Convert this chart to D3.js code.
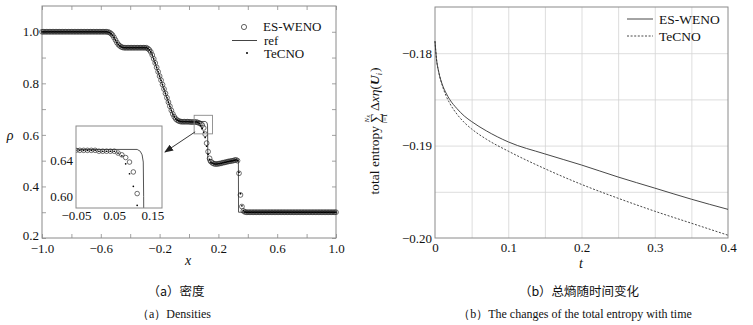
<!DOCTYPE html>
<html>
<head>
<meta charset="utf-8">
<script src="https://cdn.jsdelivr.net/npm/d3@7"></script>
<style>
  body { margin: 0; background: #fff; }
  svg { display: block; }
  text { font-family: "Liberation Serif", "Times New Roman", serif; fill: #111; }
</style>
</head>
<body>
<div id="wrapper"></div>
<script>
// ---- density at t = 0.4, cell grid x = -1 : 0.01 : 1 ----
const gridStart = -1;
const gridStep = 0.01;

const esWenoRho = [
  1.000, 1.000, 1.000, 1.000, 1.000, 1.000, 1.000, 1.000, 1.000, 1.000,
  1.000, 1.000, 1.000, 1.000, 1.000, 1.000, 1.000, 1.000, 1.000, 1.000,
  1.000, 1.000, 1.000, 1.000, 1.000, 1.000, 1.000, 1.000, 1.000, 1.000,
  1.000, 1.000, 1.000, 1.000, 1.000, 1.000, 1.000, 1.000, 1.000, 1.000,
  1.000, 1.000, 1.000, 1.000, 1.000, 0.999, 0.997, 0.993, 0.987, 0.978,
  0.968, 0.958, 0.950, 0.945, 0.941, 0.939, 0.938, 0.938, 0.938, 0.938,
  0.938, 0.938, 0.938, 0.938, 0.938, 0.938, 0.938, 0.938, 0.938, 0.938,
  0.938, 0.938, 0.935, 0.930, 0.922, 0.910, 0.895, 0.879, 0.862, 0.845,
  0.828, 0.812, 0.795, 0.778, 0.761, 0.744, 0.727, 0.711, 0.695, 0.681,
  0.670, 0.662, 0.657, 0.654, 0.652, 0.651, 0.651, 0.651, 0.651, 0.651,
  0.651, 0.650, 0.650, 0.650, 0.650, 0.650, 0.648, 0.646, 0.643, 0.638,
  0.627, 0.603, 0.568, 0.535, 0.509, 0.496, 0.491, 0.488, 0.487, 0.487,
  0.488, 0.489, 0.490, 0.492, 0.493, 0.494, 0.496, 0.497, 0.498, 0.499,
  0.500, 0.502, 0.503, 0.500, 0.451, 0.367, 0.322, 0.305, 0.301, 0.300,
  0.300, 0.300, 0.300, 0.300, 0.300, 0.300, 0.300, 0.300, 0.300, 0.300,
  0.300, 0.300, 0.300, 0.300, 0.300, 0.300, 0.300, 0.300, 0.300, 0.300,
  0.300, 0.300, 0.300, 0.300, 0.300, 0.300, 0.300, 0.300, 0.300, 0.300,
  0.300, 0.300, 0.300, 0.300, 0.300, 0.300, 0.300, 0.300, 0.300, 0.300,
  0.300, 0.300, 0.300, 0.300, 0.300, 0.300, 0.300, 0.300, 0.300, 0.300,
  0.300, 0.300, 0.300, 0.300, 0.300, 0.300, 0.300, 0.300, 0.300, 0.300,
  0.300
];

const tecnoRho = [
  1.000, 1.000, 1.000, 1.000, 1.000, 1.000, 1.000, 1.000, 1.000, 1.000,
  1.000, 1.000, 1.000, 1.000, 1.000, 1.000, 1.000, 1.000, 1.000, 1.000,
  1.000, 1.000, 1.000, 1.000, 1.000, 1.000, 1.000, 1.000, 1.000, 1.000,
  1.000, 1.000, 1.000, 1.000, 1.000, 1.000, 1.000, 1.000, 1.000, 1.000,
  1.000, 1.000, 1.000, 1.000, 1.000, 0.999, 0.997, 0.993, 0.987, 0.978,
  0.968, 0.958, 0.950, 0.945, 0.941, 0.939, 0.938, 0.938, 0.938, 0.938,
  0.938, 0.938, 0.938, 0.938, 0.938, 0.938, 0.938, 0.938, 0.938, 0.938,
  0.938, 0.938, 0.935, 0.930, 0.922, 0.910, 0.895, 0.879, 0.862, 0.845,
  0.828, 0.812, 0.795, 0.778, 0.761, 0.744, 0.727, 0.711, 0.695, 0.681,
  0.670, 0.662, 0.657, 0.654, 0.652, 0.651, 0.651, 0.651, 0.651, 0.651,
  0.651, 0.650, 0.650, 0.650, 0.650, 0.650, 0.648, 0.645, 0.636, 0.625,
  0.611, 0.590, 0.556, 0.525, 0.505, 0.494, 0.491, 0.488, 0.487, 0.487,
  0.488, 0.489, 0.490, 0.492, 0.493, 0.494, 0.496, 0.497, 0.498, 0.499,
  0.500, 0.502, 0.503, 0.500, 0.455, 0.372, 0.325, 0.306, 0.301, 0.300,
  0.300, 0.300, 0.300, 0.300, 0.300, 0.300, 0.300, 0.300, 0.300, 0.300,
  0.300, 0.300, 0.300, 0.300, 0.300, 0.300, 0.300, 0.300, 0.300, 0.300,
  0.300, 0.300, 0.300, 0.300, 0.300, 0.300, 0.300, 0.300, 0.300, 0.300,
  0.300, 0.300, 0.300, 0.300, 0.300, 0.300, 0.300, 0.300, 0.300, 0.300,
  0.300, 0.300, 0.300, 0.300, 0.300, 0.300, 0.300, 0.300, 0.300, 0.300,
  0.300, 0.300, 0.300, 0.300, 0.300, 0.300, 0.300, 0.300, 0.300, 0.300,
  0.300
];

// reference (fine grid) solution
const refX = [-1.0, -0.56, -0.545, -0.53, -0.51, -0.49, -0.47, -0.45, -0.43, -0.285, -0.27, -0.255,
  -0.12, -0.105, -0.09, -0.07, -0.04, 0.11, 0.118, 0.123, 0.126, 0.127, 0.128, 0.135,
  0.18, 0.25, 0.32, 0.336, 0.337, 1.0];
const refRho = [1.000, 1.000, 0.998, 0.992, 0.977, 0.956, 0.944, 0.939, 0.938, 0.938, 0.932, 0.918,
  0.694, 0.675, 0.662, 0.655, 0.652, 0.652, 0.650, 0.646, 0.638, 0.600, 0.500, 0.492,
  0.487, 0.494, 0.503, 0.503, 0.300, 0.300];

const rhoXTicks = [-1.0, -0.8, -0.6, -0.4, -0.2, 0, 0.2, 0.4, 0.6, 0.8, 1.0];
const rhoXLabels = [-1.0, -0.6, -0.2, 0.2, 0.6, 1.0];
const rhoYTicks = [0.2, 0.3, 0.4, 0.5, 0.6, 0.7, 0.8, 0.9, 1.0];
const rhoYLabels = [0.2, 0.4, 0.6, 0.8, 1.0];
const insetXLabels = [-0.05, 0.05, 0.15];
const insetYLabels = [0.60, 0.64];

// ---- total entropy history ----
const entropyT = [0, 0.002, 0.005, 0.01, 0.015, 0.02, 0.03, 0.04, 0.05, 0.07, 0.1, 0.15, 0.2, 0.25, 0.3, 0.35, 0.4];
const esWenoEntropy = [-0.1787, -0.1806, -0.1820, -0.1834, -0.1843, -0.1850, -0.1860, -0.1868, -0.1874,
  -0.1884, -0.1896, -0.1909, -0.1921, -0.1934, -0.1946, -0.1958, -0.1969];
const tecnoEntropy = [-0.1787, -0.1806, -0.1820, -0.1835, -0.1846, -0.1854, -0.1866, -0.1875, -0.1882,
  -0.1893, -0.1906, -0.1925, -0.1942, -0.1957, -0.1971, -0.1984, -0.1997];

const tLabels = [0, 0.1, 0.2, 0.3, 0.4];
const tGrid = [0.05, 0.1, 0.15, 0.2, 0.25, 0.3, 0.35];
const entropyLabels = [-0.20, -0.19, -0.18];
const entropyGrid = [-0.195, -0.19, -0.185, -0.18];

const serif = "'Liberation Serif', 'Times New Roman', serif";
const frameColor = "#8a8a8a";
const ink = "#222";

const fmt = (d, n) => (d < 0 ? "\u2212" : "") + Math.abs(d).toFixed(n);

const svg = d3.select("#wrapper").append("svg")
  .attr("width", 753)
  .attr("height", 325);

const defs = svg.append("defs");
defs.append("marker")
  .attr("id", "arrow")
  .attr("markerUnits", "userSpaceOnUse")
  .attr("markerWidth", 9).attr("markerHeight", 7)
  .attr("refX", 8).attr("refY", 3.5)
  .attr("orient", "auto")
  .append("path").attr("d", "M0,0 L9,3.5 L0,7 Z").attr("fill", ink);

function styleAxis(g) {
  g.select(".domain").remove();
  g.attr("font-family", null);
  g.selectAll(".tick line").attr("stroke", frameColor).attr("stroke-width", 0.8);
  g.selectAll(".tick text").attr("fill", "#111")
    .style("font-family", serif).style("font-size", "13px");
}

// =================== (a) density ===================
const rho = { left: 42, right: 336, top: 6, bottom: 238 };
const xRho = d3.scaleLinear().domain([-1, 1]).range([rho.left, rho.right]);
const yRho = d3.scaleLinear().domain([0.2, 1.1]).range([rho.bottom, rho.top]);

const cells = esWenoRho.map((r, i) => ({ x: +(gridStart + i * gridStep).toFixed(2), es: r, te: tecnoRho[i] }));
const refData = refX.map((x, i) => ({ x: x, r: refRho[i] }));

const pa = svg.append("g");

pa.append("g").attr("transform", `translate(0,${rho.bottom})`)
  .call(d3.axisBottom(xRho).tickValues(rhoXTicks).tickSizeInner(-4).tickSizeOuter(0).tickPadding(6)
    .tickFormat(d => rhoXLabels.includes(d) ? fmt(d, 1) : ""))
  .call(styleAxis);
pa.append("g").attr("transform", `translate(0,${rho.top})`)
  .call(d3.axisTop(xRho).tickValues(rhoXTicks).tickSizeInner(-4).tickSizeOuter(0).tickFormat(""))
  .call(styleAxis);
pa.append("g").attr("transform", `translate(${rho.left},0)`)
  .call(d3.axisLeft(yRho).tickValues(rhoYTicks).tickSizeInner(-4).tickSizeOuter(0).tickPadding(3)
    .tickFormat(d => rhoYLabels.includes(d) ? fmt(d, 1) : ""))
  .call(styleAxis)
  // the corner label sits a touch higher so it clears the x labels
  .call(g => g.selectAll(".tick text").filter(d => d === 0.2).attr("dy", "0.1em"));
pa.append("g").attr("transform", `translate(${rho.right},0)`)
  .call(d3.axisRight(yRho).tickValues(rhoYTicks).tickSizeInner(-4).tickSizeOuter(0).tickFormat(""))
  .call(styleAxis);

pa.append("rect")
  .attr("x", rho.left).attr("y", rho.top)
  .attr("width", rho.right - rho.left).attr("height", rho.bottom - rho.top)
  .attr("fill", "none").attr("stroke", frameColor).attr("stroke-width", 1);

const refLine = (xs, ys) => d3.line().x(d => xs(d.x)).y(d => ys(d.r));

function drawDensity(g, xs, ys, rCircle) {
  g.append("path").datum(refData)
    .attr("d", refLine(xs, ys))
    .attr("fill", "none").attr("stroke", "#555").attr("stroke-width", 1);
  g.selectAll("circle.es").data(cells).join("circle")
    .attr("class", "es")
    .attr("cx", d => xs(d.x)).attr("cy", d => ys(d.es))
    .attr("r", rCircle)
    .attr("fill", "none").attr("stroke", ink).attr("stroke-width", 0.65);
  g.selectAll("circle.te").data(cells).join("circle")
    .attr("class", "te")
    .attr("cx", d => xs(d.x)).attr("cy", d => ys(d.te))
    .attr("r", 0.85)
    .attr("fill", "#000");
}

drawDensity(pa.append("g"), xRho, yRho, 2.4);

// axis titles
pa.append("text").attr("x", 188).attr("y", 265).attr("text-anchor", "middle")
  .style("font-size", "14px").attr("font-style", "italic").text("x");
pa.append("text").attr("x", 10).attr("y", 140).attr("text-anchor", "middle")
  .style("font-size", "14px").attr("font-style", "italic").text("\u03c1");

// legend
const lgA = pa.append("g").style("font-size", "13px");
lgA.append("circle").attr("cx", 244).attr("cy", 27).attr("r", 2.6)
  .attr("fill", "none").attr("stroke", ink).attr("stroke-width", 0.7);
lgA.append("text").attr("x", 263).attr("y", 26.5).attr("dy", "0.35em").text("ES-WENO");
lgA.append("line").attr("x1", 232).attr("x2", 257).attr("y1", 40.5).attr("y2", 40.5)
  .attr("stroke", "#444").attr("stroke-width", 1);
lgA.append("text").attr("x", 264).attr("y", 40).attr("dy", "0.35em").text("ref");
lgA.append("circle").attr("cx", 247).attr("cy", 53).attr("r", 1).attr("fill", "#000");
lgA.append("text").attr("x", 264).attr("y", 53.5).attr("dy", "0.35em").text("TeCNO");

// zoom window and arrow
const zoomX = [0.035, 0.16], zoomY = [0.604, 0.676];
pa.append("rect")
  .attr("x", xRho(zoomX[0])).attr("y", yRho(zoomY[1]))
  .attr("width", xRho(zoomX[1]) - xRho(zoomX[0]))
  .attr("height", yRho(zoomY[0]) - yRho(zoomY[1]))
  .attr("fill", "none").attr("stroke", frameColor).attr("stroke-width", 0.9);

// inset
const ins = { left: 76, right: 162, top: 126, bottom: 208 };
const xIns = d3.scaleLinear().domain([-0.05, 0.175]).range([ins.left, ins.right]);
const yIns = d3.scaleLinear().domain([0.587, 0.678]).range([ins.bottom, ins.top]);

pa.append("line")
  .attr("x1", xRho(zoomX[0]) + 1).attr("y1", yRho(zoomY[0]) - 2)
  .attr("x2", ins.right + 3).attr("y2", 152)
  .attr("stroke", ink).attr("stroke-width", 0.9)
  .attr("marker-end", "url(#arrow)");

defs.append("clipPath").attr("id", "insetClip")
  .append("rect").attr("x", ins.left).attr("y", ins.top)
  .attr("width", ins.right - ins.left).attr("height", ins.bottom - ins.top);

const pi = pa.append("g");
pi.append("rect")
  .attr("x", ins.left).attr("y", ins.top)
  .attr("width", ins.right - ins.left).attr("height", ins.bottom - ins.top)
  .attr("fill", "#fff");
drawDensity(pi.append("g").attr("clip-path", "url(#insetClip)"), xIns, yIns, 2.3);
pi.append("rect")
  .attr("x", ins.left).attr("y", ins.top)
  .attr("width", ins.right - ins.left).attr("height", ins.bottom - ins.top)
  .attr("fill", "none").attr("stroke", frameColor).attr("stroke-width", 1);

pi.append("g").attr("transform", `translate(0,${ins.bottom})`)
  .call(d3.axisBottom(xIns).tickValues(insetXLabels).tickSizeInner(0).tickSizeOuter(0).tickPadding(3)
    .tickFormat(d => fmt(d, 2)))
  .call(styleAxis);
pi.append("g").attr("transform", `translate(${ins.left},0)`)
  .call(d3.axisLeft(yIns).tickValues(insetYLabels).tickSizeInner(0).tickSizeOuter(0).tickPadding(3)
    .tickFormat(d => fmt(d, 2)))
  .call(styleAxis);

// =================== (b) total entropy ===================
const ent = { left: 435, right: 728, top: 7, bottom: 238 };
const xT = d3.scaleLinear().domain([0, 0.4]).range([ent.left, ent.right]);
const yE = d3.scaleLinear().domain([-0.2, -0.175]).range([ent.bottom, ent.top]);

const pb = svg.append("g");

// grid
pb.append("g").attr("transform", `translate(0,${ent.bottom})`)
  .call(d3.axisBottom(xT).tickValues(tGrid).tickSize(-(ent.bottom - ent.top)).tickFormat(""))
  .call(g => { g.select(".domain").remove(); g.selectAll("line").attr("stroke", "#d4d4d4").attr("stroke-width", 0.8); });
pb.append("g").attr("transform", `translate(${ent.left},0)`)
  .call(d3.axisLeft(yE).tickValues(entropyGrid).tickSize(-(ent.right - ent.left)).tickFormat(""))
  .call(g => { g.select(".domain").remove(); g.selectAll("line").attr("stroke", "#d4d4d4").attr("stroke-width", 0.8); });

// labels
pb.append("g").attr("transform", `translate(0,${ent.bottom})`)
  .call(d3.axisBottom(xT).tickValues(tLabels).tickSize(0).tickPadding(5)
    .tickFormat(d => d === 0 ? "0" : fmt(d, 1)))
  .call(styleAxis);
pb.append("g").attr("transform", `translate(${ent.left},0)`)
  .call(d3.axisLeft(yE).tickValues(entropyLabels).tickSize(0).tickPadding(3)
    .tickFormat(d => fmt(d, 2)))
  .call(styleAxis);

pb.append("rect")
  .attr("x", ent.left).attr("y", ent.top)
  .attr("width", ent.right - ent.left).attr("height", ent.bottom - ent.top)
  .attr("fill", "none").attr("stroke", frameColor).attr("stroke-width", 1);

const entLine = d3.line().x(d => xT(d[0])).y(d => yE(d[1])).curve(d3.curveMonotoneX);
pb.append("path").datum(entropyT.map((t, i) => [t, esWenoEntropy[i]]))
  .attr("d", entLine).attr("fill", "none").attr("stroke", "#333").attr("stroke-width", 0.9);
pb.append("path").datum(entropyT.map((t, i) => [t, tecnoEntropy[i]]))
  .attr("d", entLine).attr("fill", "none").attr("stroke", "#333").attr("stroke-width", 0.9)
  .attr("stroke-dasharray", "2,1.6");

pb.append("text").attr("x", 581).attr("y", 268).attr("text-anchor", "middle")
  .style("font-size", "14px").attr("font-style", "italic").text("t");

// legend
const lgB = pb.append("g").style("font-size", "13.5px");
lgB.append("line").attr("x1", 627).attr("x2", 653).attr("y1", 19).attr("y2", 19)
  .attr("stroke", "#333").attr("stroke-width", 0.9);
lgB.append("text").attr("x", 659).attr("y", 19).attr("dy", "0.35em").text("ES-WENO");
lgB.append("line").attr("x1", 627).attr("x2", 653).attr("y1", 36).attr("y2", 36)
  .attr("stroke", "#333").attr("stroke-width", 0.9).attr("stroke-dasharray", "2,1.6");
lgB.append("text").attr("x", 659).attr("y", 36).attr("dy", "0.35em").text("TeCNO");

// rotated y title: total entropy  sum_{i=1}^{Nx} dx eta(U_i)
const yTitle = pb.append("g").attr("transform", "translate(379,131) rotate(-90)");
const inner = yTitle.append("g");
let cursor = 0;
function piece(str, size, opts = {}) {
  const t = inner.append("text")
    .attr("x", opts.x !== undefined ? opts.x : cursor)
    .attr("y", opts.y || 0)
    .style("font-size", size + "px")
    .attr("font-style", opts.italic ? "italic" : "normal")
    .attr("font-weight", opts.bold ? "bold" : "normal")
    .text(str);
  const w = t.node().getComputedTextLength();
  if (opts.x === undefined) cursor += w;
  return w;
}
piece("total entropy", 13.5);
cursor += 3;
const sigmaX = cursor;
piece("\u2211", 14, { y: 1 });
piece("N", 7, { x: sigmaX + 0.5, y: -10.5, italic: true });
piece("x", 5.5, { x: sigmaX + 5.5, y: -9, italic: true });
piece("i", 7, { x: sigmaX - 0.5, y: 8, italic: true });
piece("=1", 7, { x: sigmaX + 1.8, y: 8 });
cursor += 2;
piece("\u0394", 13.5);
piece("x", 13.5, { italic: true });
piece("\u03b7", 13.5, { italic: true });
piece("(", 13.5);
piece("U", 13.5, { italic: true, bold: true });
piece("i", 8, { y: 3, italic: true });
cursor += 1;
piece(")", 13.5);
const tb = inner.node().getBBox();
inner.attr("transform", `translate(${-(tb.x + tb.width / 2)},0)`);

// =================== captions ===================
const cap = svg.append("g").attr("text-anchor", "middle");
cap.append("text").attr("x", 176).attr("y", 296)
  .style("font-family", "'Noto Sans CJK SC', sans-serif").style("font-size", "12.5px")
  .text("\uff08a\uff09\u5bc6\u5ea6");
cap.append("text").attr("x", 174).attr("y", 318)
  .style("font-size", "12px").text("\uff08a\uff09Densities");
cap.append("text").attr("x", 579).attr("y", 296)
  .style("font-family", "'Noto Sans CJK SC', sans-serif").style("font-size", "12.5px")
  .text("\uff08b\uff09\u603b\u71b5\u968f\u65f6\u95f4\u53d8\u5316");
cap.append("text").attr("x", 575).attr("y", 318)
  .style("font-size", "12px").text("\uff08b\uff09The changes of the total entropy with time");
</script>
</body>
</html>
